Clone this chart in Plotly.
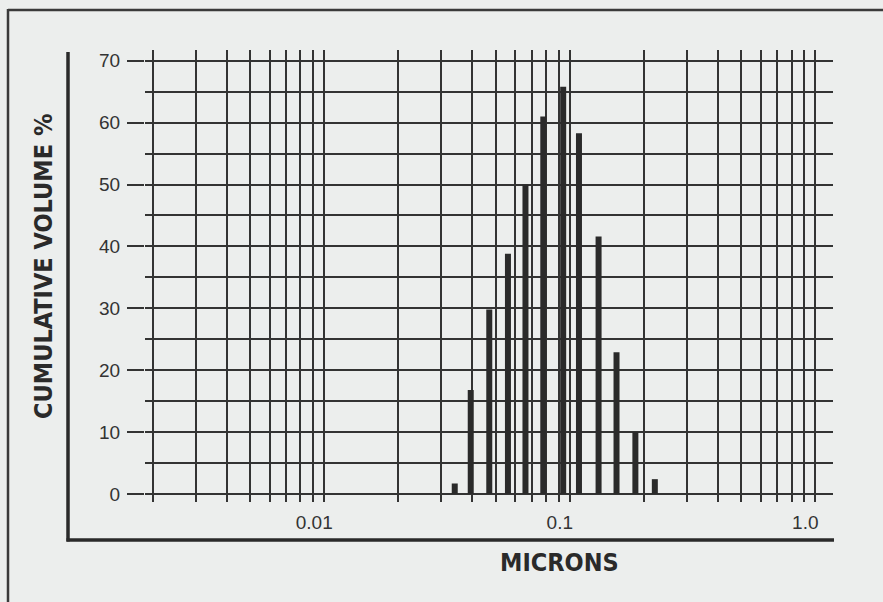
import plotly.graph_objects as go

# ---- data ----
MICRONS = [0.034, 0.0395, 0.047, 0.056, 0.066, 0.078, 0.094, 0.109, 0.131, 0.155, 0.185, 0.222]
VOLUME_PCT = [1.7, 16.8, 29.8, 38.8, 50.0, 61.0, 65.8, 58.3, 41.6, 22.9, 10.0, 2.4]
X_DECADES = [0.01, 0.1, 1.0]
X_DECADE_LABELS = ["0.01", "0.1", "1.0"]
Y_TICKS = [0, 10, 20, 30, 40, 50, 60, 70]
X_TITLE = "MICRONS"
Y_TITLE = "CUMULATIVE VOLUME %"

W, H = 883, 602
L, R, T, B = 145, 833, 50, 502  # plot area in pixels

def px(x):
    return (x - L) / (R - L)

def py(y):
    return (B - y) / (B - T)

INK = "#333333"
BG = "#eceeed"

# grid lines at 2..10 x 10^k (as in the printed log grid)
grid_vals, grid_text = [], []
for d, lab in zip(X_DECADES, X_DECADE_LABELS):
    for m in range(2, 11):
        v = round(d / 10 * m, 6)
        grid_vals.append(v)
        grid_text.append(lab if m == 10 else "")

# bars drawn as thick vertical strokes
bx, by = [], []
for x, y in zip(MICRONS, VOLUME_PCT):
    bx += [x, x, None]
    by += [0, y, None]

fig = go.Figure()
fig.add_trace(go.Scatter(x=bx, y=by, mode="lines",
                         line=dict(color="#2a2a2a", width=6),
                         hoverinfo="skip", showlegend=False))

fig.update_layout(
    width=W, height=H,
    margin=dict(l=L, r=W - R, t=T, b=H - B),
    paper_bgcolor=BG, plot_bgcolor=BG,
    font=dict(family="Liberation Sans, Arial, sans-serif", size=19, color=INK),
    showlegend=False,
)

fig.update_xaxes(
    type="log",
    range=[-2.730, 0.072],
    tickvals=grid_vals, ticktext=grid_text,
    ticks="", showline=False, zeroline=False,
    showgrid=True, gridcolor="#333333", gridwidth=1.8,
    ticklabelshift=-10, ticklabelstandoff=7,
    tickfont=dict(size=19, color=INK),
)
fig.update_yaxes(
    range=[-1.29, 71.73],
    tickvals=Y_TICKS,
    ticks="outside", ticklen=17, tickwidth=1.8, tickcolor="#333333",
    showline=False, zeroline=False,
    showgrid=True, gridcolor="#333333", gridwidth=1.8,
    minor=dict(dtick=5, tick0=5, showgrid=True, gridcolor="#333333", gridwidth=1.8, ticks=""),
    ticklabelstandoff=3,
    tickfont=dict(size=19, color=INK),
)

shapes = [
    # outer frame (top and left edges visible)
    dict(type="line", xref="paper", yref="paper",
         x0=px(8), x1=px(883), y0=py(10), y1=py(10),
         line=dict(color="#3a3a3a", width=2.5)),
    dict(type="line", xref="paper", yref="paper",
         x0=px(8), x1=px(8), y0=py(9), y1=py(602),
         line=dict(color="#3a3a3a", width=2.5)),
    # left axis bar
    dict(type="line", xref="paper", yref="paper",
         x0=px(68), x1=px(68), y0=py(52), y1=py(541.5),
         line=dict(color="#2a2a2a", width=3.5)),
    # bottom axis bar
    dict(type="line", xref="paper", yref="paper",
         x0=px(66.5), x1=px(834), y0=py(540), y1=py(540),
         line=dict(color="#2a2a2a", width=3.5)),
]
fig.update_layout(shapes=shapes)

title_font = dict(family="Liberation Sans Narrow, DejaVu Sans Condensed, Arial Narrow, sans-serif",
                  size=25, color="#2a2a2a", weight="bold")
fig.add_annotation(text=X_TITLE, xref="paper", yref="paper",
                   x=px(559), y=py(562), showarrow=False, font=title_font,
                   xanchor="center", yanchor="middle")
fig.add_annotation(text=Y_TITLE, xref="paper", yref="paper",
                   x=px(43), y=py(266), showarrow=False, font=title_font,
                   textangle=-90, xanchor="center", yanchor="middle")

fig.write_html(
    "out.html",
    config={"displayModeBar": False},
    post_script="document.body.style.margin='0';document.body.style.background='%s';"
                "document.body.style.overflow='hidden';" % BG,
)
